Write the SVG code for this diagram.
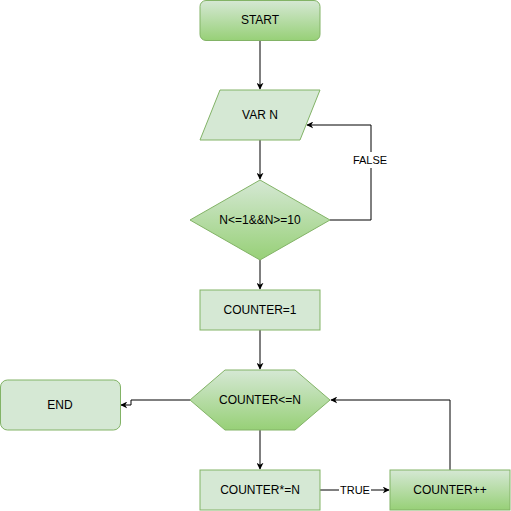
<svg xmlns="http://www.w3.org/2000/svg" width="511" height="511" viewBox="0 0 511 511">
<style>
.flat{fill:#d5e8d4;stroke:#82b366;stroke-width:1}
.grad{fill:url(#g);stroke:#82b366;stroke-width:1}
text{font-family:Helvetica,"Liberation Sans",Arial,sans-serif;font-size:12px;fill:#000;text-anchor:middle;dominant-baseline:central}
.lbl{font-size:11px}
.edge{fill:none;stroke:#000;stroke-width:1}
</style>
<defs>
<linearGradient id="g" x1="0" y1="0" x2="0" y2="1">
<stop offset="0" stop-color="#d5e8d4"/>
<stop offset="1" stop-color="#97d077"/>
</linearGradient>
<marker id="a" viewBox="0 0 10 10" refX="9" refY="5" markerWidth="7" markerHeight="7" orient="auto" markerUnits="userSpaceOnUse">
<path d="M0,0 L10,5 L0,10 L3,5 Z" fill="#000"/>
</marker>
</defs>
<rect width="511" height="511" fill="#fff"/>
<g id="connectors">
<path class="edge" d="M260,40 V89" marker-end="url(#a)"/>
<path class="edge" d="M260,140 V179" marker-end="url(#a)"/>
<path class="edge" d="M330,220 H371 V125 H307" marker-end="url(#a)"/>
<path class="edge" d="M260,260 V289" marker-end="url(#a)"/>
<path class="edge" d="M260,330 V369" marker-end="url(#a)"/>
<path class="edge" d="M190,400 H131 V405 H121" marker-end="url(#a)"/>
<path class="edge" d="M260,430 V469" marker-end="url(#a)"/>
<path class="edge" d="M320,490 H389" marker-end="url(#a)"/>
<path class="edge" d="M450,470 V400 H331" marker-end="url(#a)"/>
<rect x="352" y="152" width="36" height="16" fill="#fff"/>
<text class="lbl" x="370" y="160">FALSE</text>
<rect x="339" y="483" width="32" height="14" fill="#fff"/>
<text class="lbl" x="355" y="490">TRUE</text>
</g>
<g id="start">
<rect class="grad" x="200" y="0.5" width="120" height="40" rx="6"/>
<text x="260" y="20">START</text>
</g>
<g id="varn">
<polygon class="flat" points="220,90 320,90 300,140 200,140"/>
<text x="260" y="115">VAR N</text>
</g>
<g id="cond">
<polygon class="grad" points="260,180 330,220 260,260 190,220"/>
<text x="260" y="220">N&lt;=1&amp;&amp;N&gt;=10</text>
</g>
<g id="counter1">
<rect class="flat" x="200" y="290" width="120" height="40"/>
<text x="260" y="310">COUNTER=1</text>
</g>
<g id="loopcond">
<polygon class="grad" points="190,400 225,370 295,370 330,400 295,430 225,430"/>
<text x="260" y="400">COUNTER&lt;=N</text>
</g>
<g id="end">
<rect class="flat" x="0.5" y="380" width="120" height="50" rx="7"/>
<text x="60" y="405">END</text>
</g>
<g id="mult">
<rect class="flat" x="200" y="470" width="120" height="40"/>
<text x="260" y="490">COUNTER*=N</text>
</g>
<g id="inc">
<rect class="grad" x="390" y="470" width="120" height="40"/>
<text x="450" y="490">COUNTER++</text>
</g>
</svg>
